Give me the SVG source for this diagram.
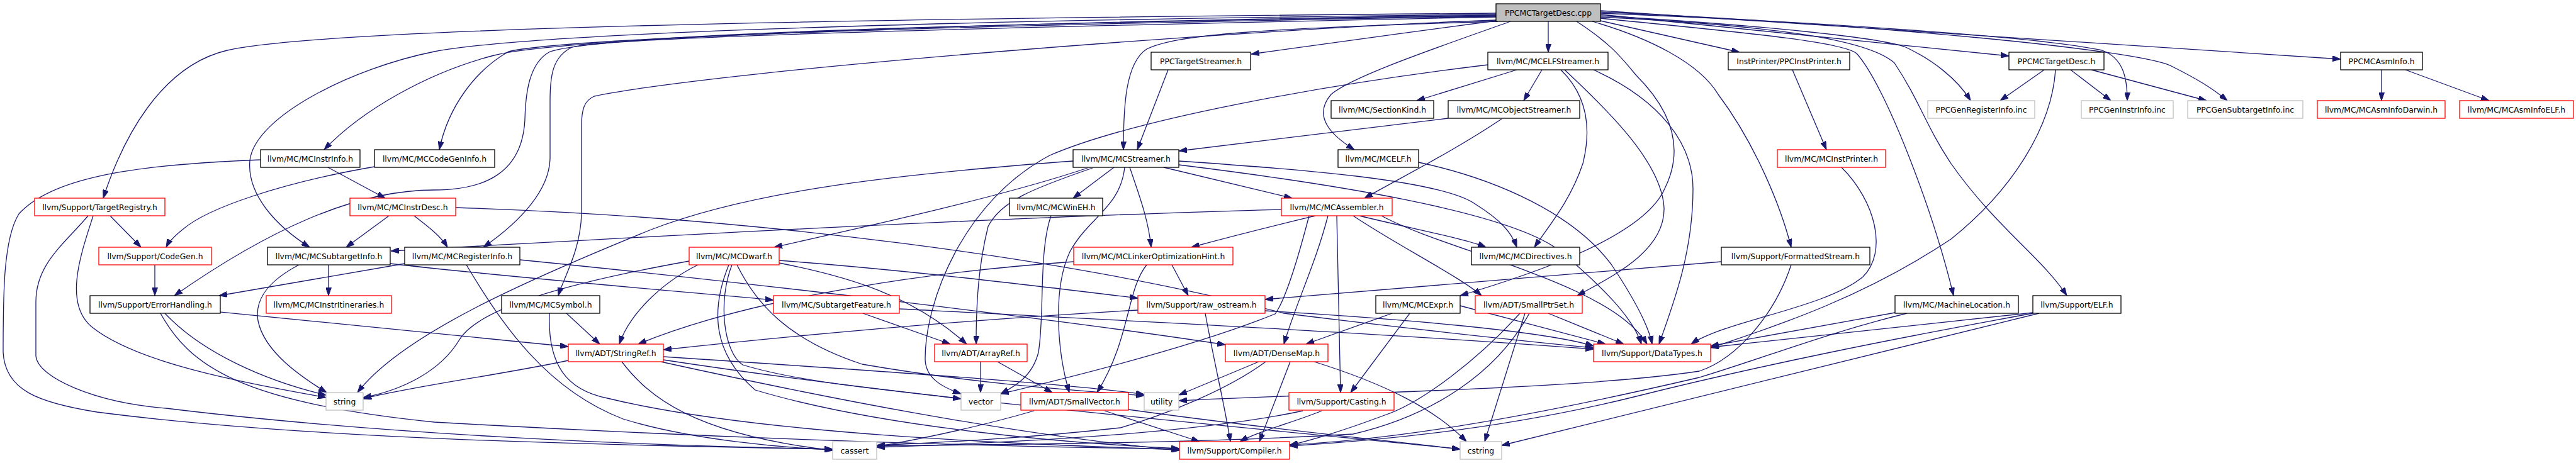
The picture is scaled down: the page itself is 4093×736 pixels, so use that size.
<svg xmlns="http://www.w3.org/2000/svg" width="4093" height="736" viewBox="0 0 4093 736">
<style>
rect{stroke-width:1.3}
.k{fill:#fff;stroke:#000}
.r{fill:#fff;stroke:#ff0000}
.g{fill:#fff;stroke:#bfbfbf}
.root{fill:#bfbfbf;stroke:#000}
text{font-family:"DejaVu Sans","Liberation Sans",sans-serif;font-size:12.4px;fill:#000;text-anchor:middle}
#edges path{fill:none;stroke:#191970;stroke-width:1.3;marker-end:url(#ah)}
</style>
<defs>
<marker id="ah" viewBox="0 0 13 9" refX="13" refY="4.5" markerWidth="13" markerHeight="9" markerUnits="userSpaceOnUse" orient="auto">
<path d="M0,0 L13,4.5 L0,9 z" fill="#191970" stroke="#191970"/>
</marker>
</defs>
<rect width="4093" height="736" fill="#fff"/>
<g id="edges">
<path d="M2377,21 C1300,30 520,45 361,80 C255,105 195,220 164,315"/>
<path d="M2377,23 C1400,33 830,55 690,82 C560,108 405,185 397,255 C392,310 440,360 492,393"/>
<path d="M2377,25 C1500,38 960,55 874,82 C840,100 835,150 834,190 C830,275 770,302 690,302 C560,302 420,370 277,470"/>
<path d="M2377,24 C1500,36 880,62 785,88 C680,115 575,175 515,238"/>
<path d="M2377,26 C1500,40 900,60 808,82 C755,112 712,170 698,238"/>
<path d="M2377,27 C1500,45 960,60 909,75 C878,90 874,120 874,160 L874,250 C874,300 830,350 768,393"/>
<path d="M2377,32 C2000,45 1150,110 944,153 C928,160 924,175 924,200 L924,340 C922,400 896,440 887,470"/>
<path d="M2377,33 C2250,50 2100,70 1988,86"/>
<path d="M2380,34 C2000,45 1870,55 1822,78 C1788,100 1785,170 1785,238"/>
<path d="M2460,34 L2460,83"/>
<path d="M2400,34 C2300,70 2150,120 2115,150 C2085,185 2115,215 2152,238"/>
<path d="M2505,34 C2560,70 2575,90 2600,120 C2660,180 2675,240 2645,300 C2610,380 2420,440 2320,470"/>
<path d="M2530,34 C2620,60 2700,100 2730,150 C2790,230 2830,330 2846,393"/>
<path d="M2543,33 L2764,83"/>
<path d="M2543,29 C2750,50 2925,65 2950,85 C2995,135 3070,330 3104,470"/>
<path d="M2543,27 C2800,40 2965,60 3010,100 C3050,160 3060,200 3100,260 C3170,360 3245,410 3284,470"/>
<path d="M2543,23 L3192,89"/>
<path d="M2543,25 C2800,40 2990,60 3028,75 C3070,95 3110,125 3131,160"/>
<path d="M2543,21 C2900,35 3250,60 3340,80 C3372,92 3380,120 3380,160"/>
<path d="M2543,19 C3000,40 3400,80 3450,105 C3490,125 3515,140 3539,160"/>
<path d="M2543,17 L3719,94"/>
<path d="M1856,111 L1807,238"/>
<path d="M2410,111 L2251,160"/>
<path d="M2450,111 L2421,160"/>
<path d="M2364,103 C2100,135 1800,190 1668,247 C1530,320 1470,480 1470,570 C1470,600 1495,615 1527,626"/>
<path d="M2480,111 C2520,150 2530,200 2515,260 C2495,320 2460,360 2438,393"/>
<path d="M2486,111 C2560,180 2640,260 2644,330 C2646,400 2560,440 2506,470"/>
<path d="M2532,111 C2640,160 2690,230 2690,300 C2690,400 2660,480 2636,547"/>
<path d="M2848,111 L2902,238"/>
<path d="M3248,111 L3178,160"/>
<path d="M3290,111 L3354,160"/>
<path d="M3323,111 L3506,160"/>
<path d="M3266,111 C3260,200 3200,300 3100,380 C2950,480 2800,525 2718,553"/>
<path d="M3784,111 L3784,160"/>
<path d="M3822,111 L3955,160"/>
<path d="M2301,188 L1873,240"/>
<path d="M2386,189 C2310,240 2230,280 2168,315"/>
<path d="M521,266 L612,315"/>
<path d="M414,254 C200,262 80,285 30,340 C5,380 5,470 5,560 C8,620 60,640 154,655 C500,700 1000,708 1323,714"/>
<path d="M595,265 C450,290 330,330 290,365 C275,377 268,385 264,393"/>
<path d="M1705,256 C1450,275 1200,300 1032,366 C850,440 640,530 568,624"/>
<path d="M1770,266 L1705,315"/>
<path d="M1728,267 C1600,310 1400,355 1230,393"/>
<path d="M1736,267 C1640,300 1590,320 1570,360 C1555,420 1551,480 1551,547"/>
<path d="M1849,266 L2053,315"/>
<path d="M1873,256 C2050,268 2290,285 2345,325 C2385,350 2402,370 2410,393"/>
<path d="M1873,262 C2100,290 2400,335 2480,400 C2545,455 2595,505 2608,547"/>
<path d="M1795,266 C1810,310 1825,350 1829,393"/>
<path d="M1787,266 C1780,330 1730,345 1700,400 C1672,460 1680,560 1699,624"/>
<path d="M2036,333 C1600,345 1100,372 621,399"/>
<path d="M2090,343 C2040,355 1985,368 1893,393"/>
<path d="M2160,343 C2250,365 2330,380 2361,393"/>
<path d="M2110,343 C2090,420 2060,480 2040,547"/>
<path d="M2124,343 L2130,624"/>
<path d="M2195,343 C2300,400 2560,450 2617,547"/>
<path d="M2150,343 C2220,390 2320,440 2354,470"/>
<path d="M2080,343 C2060,420 2040,480 2026,499 C1900,550 1700,600 1590,626"/>
<path d="M2254,258 C2380,285 2500,340 2560,420 C2600,480 2620,520 2625,547"/>
<path d="M2926,266 C2980,320 3000,400 2960,440 C2900,490 2740,510 2687,547"/>
<path d="M175,343 L224,393"/>
<path d="M148,343 C130,400 100,480 145,519 C220,580 400,610 518,632"/>
<path d="M140,343 C100,390 57,420 57,480 L57,566 C60,600 150,640 264,649 C600,690 1000,708 1323,714"/>
<path d="M246,421 L246,470"/>
<path d="M262,498 C320,560 420,605 518,628"/>
<path d="M350,496 C550,515 750,535 903,551"/>
<path d="M255,498 C300,580 380,640 690,671 C1200,700 1600,710 1874,714"/>
<path d="M658,343 C680,360 700,375 711,393"/>
<path d="M618,343 L550,393"/>
<path d="M724,330 C1200,345 1700,410 2040,498 C2300,530 2450,545 2532,553"/>
<path d="M522,421 L522,470"/>
<path d="M475,421 C420,450 405,480 410,510 C420,560 480,600 519,624"/>
<path d="M620,419 C800,440 1100,465 1229,477"/>
<path d="M643,419 L348,470"/>
<path d="M826,413 C1200,450 1700,510 1947,548"/>
<path d="M741,421 C800,520 870,620 990,666 C1100,700 1250,712 1323,715"/>
<path d="M900,498 L953,547"/>
<path d="M873,498 C870,580 900,620 965,633 C1200,690 1600,705 1874,715"/>
<path d="M903,573 C800,595 650,615 577,634"/>
<path d="M988,575 C1030,630 1100,690 1323,716"/>
<path d="M1054,567 C1400,590 1700,610 1818,627"/>
<path d="M1050,575 C1300,630 1600,690 1874,716"/>
<path d="M1054,572 C1500,640 2000,680 2320,714"/>
<path d="M1095,415 C900,450 760,490 730,540 C700,590 640,620 577,632"/>
<path d="M1109,421 C1050,450 1000,500 984,547"/>
<path d="M1163,421 C1140,480 1150,560 1180,580 C1280,610 1420,620 1527,634"/>
<path d="M1158,421 C1130,490 1130,560 1200,620 C1400,680 1700,705 1874,713"/>
<path d="M1171,421 C1200,480 1250,540 1370,579 C1550,610 1700,620 1818,629"/>
<path d="M1238,414 C1450,430 1650,455 1808,474"/>
<path d="M1238,418 C1350,440 1450,470 1536,547"/>
<path d="M1371,498 L1510,547"/>
<path d="M1429,491 C1800,510 2200,530 2532,555"/>
<path d="M1558,575 L1558,624"/>
<path d="M1585,575 L1672,624"/>
<path d="M1808,493 C1500,510 1200,540 1054,556"/>
<path d="M1915,498 C1930,580 1945,640 1955,702"/>
<path d="M2010,494 C2200,505 2450,525 2532,550"/>
<path d="M1706,416 C1500,430 1200,470 1014,547"/>
<path d="M1862,421 L1888,470"/>
<path d="M1822,421 C1790,460 1796,540 1743,624"/>
<path d="M1670,343 C1650,400 1660,500 1650,560 C1640,600 1610,615 1590,626"/>
<path d="M2000,575 L1873,628"/>
<path d="M2050,575 L2001,702"/>
<path d="M2011,575 C1950,620 1850,660 1780,680 C1600,700 1450,705 1393,708"/>
<path d="M2088,575 C2200,610 2280,650 2330,702"/>
<path d="M2212,498 L2075,547"/>
<path d="M2240,498 L2146,624"/>
<path d="M2320,486 L2551,547"/>
<path d="M2460,498 L2580,547"/>
<path d="M2423,498 L2359,702"/>
<path d="M2415,498 C2350,570 2260,640 2200,660 C2120,690 2080,700 2049,708"/>
<path d="M2430,498 C2380,590 2280,660 2150,690 C1900,705 1600,706 1393,709"/>
<path d="M2070,653 C1900,690 1600,704 1393,711"/>
<path d="M2100,653 C2060,670 2000,685 1970,702"/>
<path d="M1643,653 C1550,680 1450,700 1393,710"/>
<path d="M1755,653 L1906,702"/>
<path d="M1793,651 C2000,680 2200,700 2320,714"/>
<path d="M3230,497 L2718,552"/>
<path d="M3230,498 C3000,540 2800,580 2600,630 C2400,680 2200,700 2049,709"/>
<path d="M3240,498 L2386,708"/>
<path d="M3011,497 L2718,550"/>
<path d="M3030,498 C2900,530 2800,570 2700,600 C2400,670 2200,700 2049,707"/>
<path d="M2735,416 L2010,476"/>
<path d="M2846,421 C2820,500 2760,570 2700,590 C2500,620 2100,625 1873,637"/>
</g>
<g id="n_root"><rect class="root" x="2377" y="6" width="166" height="28"/><text x="2460" y="24.5">PPCMCTargetDesc.cpp</text></g>
<g id="n_pts"><rect class="k" x="1829" y="83" width="158" height="28"/><text x="1908" y="101.5">PPCTargetStreamer.h</text></g>
<g id="n_elfs"><rect class="k" x="2364" y="83" width="191" height="28"/><text x="2459.5" y="101.5">llvm/MC/MCELFStreamer.h</text></g>
<g id="n_ipp"><rect class="k" x="2746" y="83" width="193" height="28"/><text x="2842.5" y="101.5">InstPrinter/PPCInstPrinter.h</text></g>
<g id="n_tdh"><rect class="k" x="3192" y="83" width="151" height="28"/><text x="3267.5" y="101.5">PPCMCTargetDesc.h</text></g>
<g id="n_ai"><rect class="k" x="3719" y="83" width="130" height="28"/><text x="3784" y="101.5">PPCMCAsmInfo.h</text></g>
<g id="n_sk"><rect class="k" x="2115" y="160" width="163" height="28"/><text x="2196.5" y="178.5">llvm/MC/SectionKind.h</text></g>
<g id="n_os"><rect class="k" x="2301" y="160" width="209" height="28"/><text x="2405.5" y="178.5">llvm/MC/MCObjectStreamer.h</text></g>
<g id="n_gri"><rect class="g" x="3063" y="160" width="170" height="28"/><text x="3148" y="178.5">PPCGenRegisterInfo.inc</text></g>
<g id="n_gii"><rect class="g" x="3307" y="160" width="146" height="28"/><text x="3380" y="178.5">PPCGenInstrInfo.inc</text></g>
<g id="n_gsi"><rect class="g" x="3476" y="160" width="183" height="28"/><text x="3567.5" y="178.5">PPCGenSubtargetInfo.inc</text></g>
<g id="n_aid"><rect class="r" x="3682" y="160" width="203" height="28"/><text x="3783.5" y="178.5">llvm/MC/MCAsmInfoDarwin.h</text></g>
<g id="n_aie"><rect class="r" x="3908" y="160" width="181" height="28"/><text x="3998.5" y="178.5">llvm/MC/MCAsmInfoELF.h</text></g>
<g id="n_ii"><rect class="k" x="414" y="238" width="158" height="28"/><text x="493" y="256.5">llvm/MC/MCInstrInfo.h</text></g>
<g id="n_cgi"><rect class="k" x="595" y="238" width="191" height="28"/><text x="690.5" y="256.5">llvm/MC/MCCodeGenInfo.h</text></g>
<g id="n_st"><rect class="k" x="1705" y="238" width="168" height="28"/><text x="1789" y="256.5">llvm/MC/MCStreamer.h</text></g>
<g id="n_elf"><rect class="k" x="2126" y="238" width="128" height="28"/><text x="2190" y="256.5">llvm/MC/MCELF.h</text></g>
<g id="n_ip"><rect class="r" x="2824" y="238" width="172" height="28"/><text x="2910" y="256.5">llvm/MC/MCInstPrinter.h</text></g>
<g id="n_tr"><rect class="r" x="55" y="315" width="207" height="28"/><text x="158.5" y="333.5">llvm/Support/TargetRegistry.h</text></g>
<g id="n_id"><rect class="r" x="556" y="315" width="168" height="28"/><text x="640" y="333.5">llvm/MC/MCInstrDesc.h</text></g>
<g id="n_weh"><rect class="k" x="1604" y="315" width="148" height="28"/><text x="1678" y="333.5">llvm/MC/MCWinEH.h</text></g>
<g id="n_asm"><rect class="r" x="2036" y="315" width="176" height="28"/><text x="2124" y="333.5">llvm/MC/MCAssembler.h</text></g>
<g id="n_cg"><rect class="r" x="157" y="393" width="179" height="28"/><text x="246.5" y="411.5">llvm/Support/CodeGen.h</text></g>
<g id="n_sti"><rect class="k" x="425" y="393" width="195" height="28"/><text x="522.5" y="411.5">llvm/MC/MCSubtargetInfo.h</text></g>
<g id="n_ri"><rect class="k" x="643" y="393" width="183" height="28"/><text x="734.5" y="411.5">llvm/MC/MCRegisterInfo.h</text></g>
<g id="n_dw"><rect class="r" x="1095" y="393" width="143" height="28"/><text x="1166.5" y="411.5">llvm/MC/MCDwarf.h</text></g>
<g id="n_loh"><rect class="r" x="1706" y="393" width="253" height="28"/><text x="1832.5" y="411.5">llvm/MC/MCLinkerOptimizationHint.h</text></g>
<g id="n_dir"><rect class="k" x="2338" y="393" width="172" height="28"/><text x="2424" y="411.5">llvm/MC/MCDirectives.h</text></g>
<g id="n_fs"><rect class="k" x="2735" y="393" width="236" height="28"/><text x="2853" y="411.5">llvm/Support/FormattedStream.h</text></g>
<g id="n_eh"><rect class="k" x="143" y="470" width="207" height="28"/><text x="246.5" y="488.5">llvm/Support/ErrorHandling.h</text></g>
<g id="n_it"><rect class="r" x="423" y="470" width="199" height="28"/><text x="522.5" y="488.5">llvm/MC/MCInstrItineraries.h</text></g>
<g id="n_sym"><rect class="k" x="797" y="470" width="156" height="28"/><text x="875" y="488.5">llvm/MC/MCSymbol.h</text></g>
<g id="n_sf"><rect class="r" x="1229" y="470" width="200" height="28"/><text x="1329" y="488.5">llvm/MC/SubtargetFeature.h</text></g>
<g id="n_ro"><rect class="r" x="1808" y="470" width="202" height="28"/><text x="1909" y="488.5">llvm/Support/raw_ostream.h</text></g>
<g id="n_ex"><rect class="k" x="2186" y="470" width="134" height="28"/><text x="2253" y="488.5">llvm/MC/MCExpr.h</text></g>
<g id="n_sps"><rect class="r" x="2344" y="470" width="170" height="28"/><text x="2429" y="488.5">llvm/ADT/SmallPtrSet.h</text></g>
<g id="n_ml"><rect class="k" x="3011" y="470" width="196" height="28"/><text x="3109" y="488.5">llvm/MC/MachineLocation.h</text></g>
<g id="n_elfh"><rect class="k" x="3230" y="470" width="140" height="28"/><text x="3300" y="488.5">llvm/Support/ELF.h</text></g>
<g id="n_sr"><rect class="r" x="903" y="547" width="151" height="28"/><text x="978.5" y="565.5">llvm/ADT/StringRef.h</text></g>
<g id="n_ar"><rect class="r" x="1485" y="547" width="147" height="28"/><text x="1558.5" y="565.5">llvm/ADT/ArrayRef.h</text></g>
<g id="n_dm"><rect class="r" x="1947" y="547" width="163" height="28"/><text x="2028.5" y="565.5">llvm/ADT/DenseMap.h</text></g>
<g id="n_dt"><rect class="r" x="2532" y="547" width="186" height="28"/><text x="2625" y="565.5">llvm/Support/DataTypes.h</text></g>
<g id="n_str"><rect class="g" x="518" y="624" width="59" height="28"/><text x="547.5" y="642.5">string</text></g>
<g id="n_vec"><rect class="g" x="1527" y="624" width="63" height="28"/><text x="1558.5" y="642.5">vector</text></g>
<g id="n_sv"><rect class="r" x="1622" y="624" width="171" height="28"/><text x="1707.5" y="642.5">llvm/ADT/SmallVector.h</text></g>
<g id="n_ut"><rect class="g" x="1818" y="624" width="55" height="28"/><text x="1845.5" y="642.5">utility</text></g>
<g id="n_cas"><rect class="r" x="2048" y="624" width="167" height="28"/><text x="2131.5" y="642.5">llvm/Support/Casting.h</text></g>
<g id="n_ca"><rect class="g" x="1323" y="702" width="70" height="28"/><text x="1358" y="720.5">cassert</text></g>
<g id="n_co"><rect class="r" x="1874" y="702" width="175" height="28"/><text x="1961.5" y="720.5">llvm/Support/Compiler.h</text></g>
<g id="n_cs"><rect class="g" x="2320" y="702" width="66" height="28"/><text x="2353" y="720.5">cstring</text></g>
</svg>
